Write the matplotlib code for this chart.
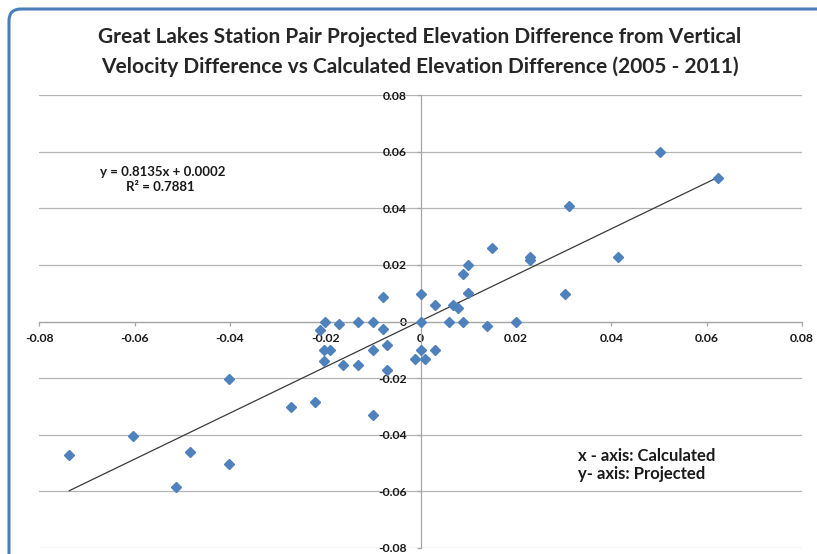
import numpy as np
import matplotlib
matplotlib.use("Agg")
import matplotlib.pyplot as plt
from matplotlib.patches import FancyBboxPatch

# ---- data ----
calculated = [-0.0737, -0.0604, -0.0514, -0.0483, -0.0403, -0.0403, -0.0272, -0.0222,
              -0.0101, -0.0201, -0.0212, -0.0172, -0.0132, -0.0101, -0.0080, -0.0080,
              -0.0202, -0.0190, -0.0202, -0.0162, -0.0132, -0.0101, -0.0071, -0.0071,
              0.0001, 0.0000, 0.0030, 0.0000, -0.0011, 0.0010, 0.0031, 0.0059,
              0.0068, 0.0079, 0.0089, 0.0089, 0.0100, 0.0100, 0.0149, 0.0230,
              0.0230, 0.0200, 0.0140, 0.0503, 0.0623, 0.0311, 0.0413, 0.0302]
projected = [-0.0473, -0.0404, -0.0583, -0.0460, -0.0203, -0.0504, -0.0301, -0.0283,
             -0.0329, 0.0000, -0.0029, -0.0010, 0.0000, 0.0000, 0.0088, -0.0025,
             -0.0100, -0.0100, -0.0141, -0.0154, -0.0154, -0.0100, -0.0084, -0.0170,
             0.0098, 0.0000, 0.0059, -0.0100, -0.0133, -0.0133, -0.0100, 0.0000,
             0.0060, 0.0047, 0.0000, 0.0169, 0.0198, 0.0100, 0.0258, 0.0227,
             0.0218, 0.0000, -0.0017, 0.0598, 0.0508, 0.0409, 0.0227, 0.0098]
trend_slope = 0.8135
trend_intercept = 0.0002
r_squared = 0.7881
tick_values = [-0.08, -0.06, -0.04, -0.02, 0, 0.02, 0.04, 0.06, 0.08]
tick_labels = ["-0.08", "-0.06", "-0.04", "-0.02", "0", "0.02", "0.04", "0.06", "0.08"]
title_lines = ["Great Lakes Station Pair Projected Elevation Difference from Vertical",
               "Velocity Difference vs Calculated Elevation Difference (2005 - 2011)"]

FONT = ["Lato", "DejaVu Sans"]
plt.rcParams["font.family"] = FONT

W, H = 817, 554
fig = plt.figure(figsize=(W / 100, H / 100), dpi=100)
fig.patch.set_facecolor("white")

# blue chart-area border (rounded top-left corner)
border = FancyBboxPatch((9 / 100, -1.0), 10.0, (H - 9) / 100 + 1.0,
                        boxstyle="round,pad=0,rounding_size=0.12",
                        transform=fig.dpi_scale_trans, facecolor="none",
                        edgecolor="#4a7ebb", linewidth=2.2, zorder=0)
fig.patches.append(border)

x0, x1 = 39.3, 802
y0, y1 = 95, 548
ax = fig.add_axes([x0 / W, 1 - y1 / H, (x1 - x0) / W, (y1 - y0) / H])
ax.set_xlim(-0.08, 0.08)
ax.set_ylim(-0.08, 0.08)

grid_c = "#b4b4b4"
for v in tick_values:
    ax.axhline(v, color=grid_c, lw=0.9, zorder=1)

for s in ["top", "right"]:
    ax.spines[s].set_visible(False)
ax.spines["left"].set_position(("data", 0))
ax.spines["bottom"].set_position(("data", 0))
ax.spines["left"].set_color("#a6a6a6")
ax.spines["bottom"].set_color("#a6a6a6")
ax.spines["left"].set_linewidth(0.9)
ax.spines["bottom"].set_linewidth(0.9)

ax.set_xticks(tick_values)
ax.set_xticklabels(tick_labels)
ax.set_yticks(tick_values)
ax.set_yticklabels(tick_labels)
ax.tick_params(axis="x", direction="out", length=3, width=0.9, color="#a6a6a6",
               pad=5, labelsize=8.8, labelcolor="#1a1a1a")
ax.tick_params(axis="y", direction="out", length=3, width=0.9, color="#a6a6a6",
               pad=7, labelsize=8.8, labelcolor="#1a1a1a")
for lab in ax.get_xticklabels() + ax.get_yticklabels():
    lab.set_fontweight("bold")

# trend line
tx = np.array([min(calculated), max(calculated)])
ax.plot(tx, trend_slope * tx + trend_intercept, color="#3a3a3a", lw=0.9, zorder=2)

# data points
ax.plot(calculated, projected, linestyle="none", marker="D", markersize=5.6,
        color="#4f81bd", markeredgecolor="#4f81bd", zorder=3, clip_on=False)

# annotations
fig.text(163 / W, 1 - 172.5 / H, f"y = {trend_slope}x + {trend_intercept:.4f}",
         ha="center", va="center", fontsize=9.5, fontweight="bold", color="#1a1a1a")
fig.text(160.5 / W, 1 - 187.5 / H, f"R² = {r_squared}",
         ha="center", va="center", fontsize=9.5, fontweight="bold", color="#1a1a1a")
fig.text(578 / W, 1 - 456 / H, "x - axis: Calculated", ha="left", va="center",
         fontsize=12, fontweight="bold", color="#1a1a1a")
fig.text(578 / W, 1 - 474 / H, "y- axis: Projected", ha="left", va="center",
         fontsize=12, fontweight="bold", color="#1a1a1a")

# title
fig.text(420 / W, 1 - 37 / H, title_lines[0], ha="center", va="center",
         fontsize=15, fontweight="bold", color="#262626")
fig.text(420 / W, 1 - 67 / H, title_lines[1], ha="center", va="center",
         fontsize=15, fontweight="bold", color="#262626")

fig.savefig("out.png", dpi=100)
